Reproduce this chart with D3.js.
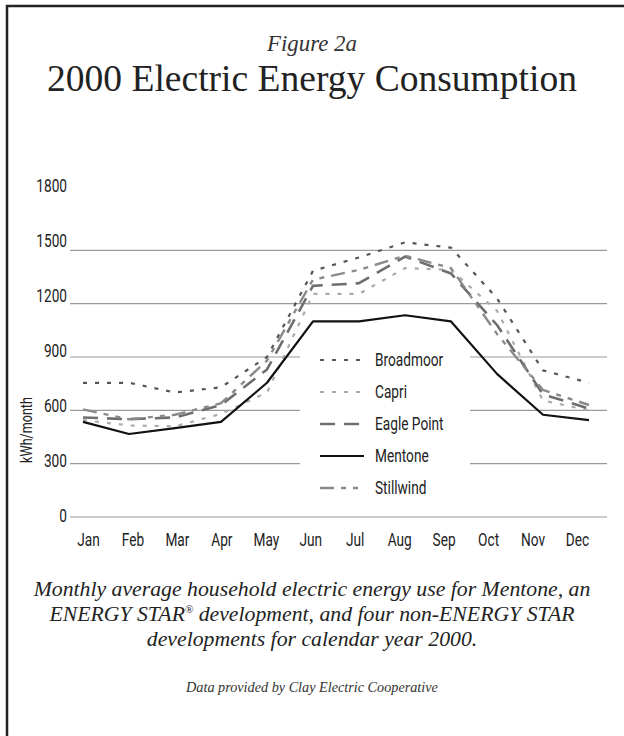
<!DOCTYPE html>
<html>
<head>
<meta charset="utf-8">
<script src="https://cdn.jsdelivr.net/npm/d3@7"></script>
<style>
  html, body { margin: 0; padding: 0; background: #fff; }
  svg { display: block; }
</style>
</head>
<body>
<svg id="chart" width="624" height="736"></svg>
<script>
const months = ["Jan","Feb","Mar","Apr","May","Jun","Jul","Aug","Sep","Oct","Nov","Dec"];
const yTicks = [0, 300, 600, 900, 1200, 1500, 1800];
const gridTicks = [0, 300, 600, 900, 1200, 1500];
const seriesNames = ["Broadmoor", "Capri", "Eagle Point", "Mentone", "Stillwind"];
const broadmoor  = [755, 755, 700, 730, 900, 1385, 1460, 1545, 1515, 1230, 825, 755];
const capri      = [545, 515, 510, 580, 700, 1255, 1255, 1400, 1390, 1160, 655, 600];
const eaglePoint = [560, 550, 560, 630, 830, 1300, 1315, 1465, 1370, 1080, 690, 610];
const mentone    = [535, 467, 500, 535, 755, 1100, 1100, 1135, 1100, 805, 575, 545];
const stillwind  = [605, 550, 575, 640, 880, 1335, 1390, 1470, 1400, 1030, 715, 630];

const seriesData = [broadmoor, capri, eaglePoint, mentone, stillwind];
const styles = [
  {stroke: "#555", width: 2.2, dash: "4,8"},
  {stroke: "#aaa", width: 2.2, dash: "4,8"},
  {stroke: "#6e6e6e", width: 2.6, dash: "15,9"},
  {stroke: "#111", width: 2.2, dash: null},
  {stroke: "#8a8a8a", width: 2.4, dash: "14,7,5,7,5,7"}
];

const svg = d3.select("#chart");
const condensed = "Roboto, 'Liberation Sans', sans-serif";
const squeeze = "scale(0.72,1)";
const serif = "'Liberation Serif', 'DejaVu Serif', serif";

// frame
svg.append("path").attr("d", "M7,740 V6 H630").attr("fill", "none")
  .attr("stroke", "#222").attr("stroke-width", 2.5);

// scales
const x = d3.scalePoint().domain(months).range([83, 589]);
const y = d3.scaleLinear().domain([0, 1800]).range([517, 197]);
const xLab = d3.scalePoint().domain(months).range([88, 577]);
const yLab = d3.scaleLinear().domain([0, 1800]).range([515, 185]);

// gridlines
svg.append("g").selectAll("line").data(gridTicks).join("line")
  .attr("x1", 70).attr("x2", 607)
  .attr("y1", d => y(d)).attr("y2", d => y(d))
  .attr("stroke", "#9a9a9a").attr("stroke-width", 1.2);

// y axis labels
const yAxis = d3.axisLeft(yLab).tickValues(yTicks).tickSize(0).tickPadding(0).tickFormat(d3.format("d"));
const gy = svg.append("g").attr("transform", "translate(67,0)").call(yAxis);
gy.select(".domain").remove();
gy.selectAll("text").attr("x", 0).attr("font-family", condensed).attr("font-size", 19)
  .attr("fill", "#222").attr("dy", "0.35em").attr("transform", squeeze);

// x axis labels
const xAxis = d3.axisBottom(xLab).tickSize(0).tickPadding(0);
const gx = svg.append("g").attr("transform", "translate(0,532)").call(xAxis);
gx.select(".domain").remove();
gx.selectAll("text").attr("y", 0).attr("font-family", condensed).attr("font-size", 19)
  .attr("fill", "#222").attr("dy", "0.71em").attr("transform", squeeze);

// y axis title
svg.append("text").attr("transform", "translate(32,430) rotate(-90) scale(0.74,1)")
  .attr("text-anchor", "middle").attr("font-family", condensed).attr("font-size", 17)
  .attr("fill", "#222").text("kWh/month");

// legend background
svg.append("rect").attr("x", 300).attr("y", 343).attr("width", 170).attr("height", 160).attr("fill", "#fff");

// lines
const line = d3.line().x((d, i) => x(months[i])).y(d => y(d));
svg.append("g").selectAll("path").data(seriesData).join("path")
  .attr("d", d => line(d)).attr("fill", "none")
  .attr("stroke", (d, i) => styles[i].stroke)
  .attr("stroke-width", (d, i) => styles[i].width)
  .attr("stroke-dasharray", (d, i) => styles[i].dash)
  .attr("stroke-linejoin", "round");

// legend
const lg = svg.append("g");
seriesNames.forEach((name, i) => {
  const ly = 359 + i * 32;
  lg.append("line").attr("x1", 320).attr("x2", 364).attr("y1", ly + 1).attr("y2", ly + 1)
    .attr("stroke", styles[i].stroke).attr("stroke-width", styles[i].width)
    .attr("stroke-dasharray", styles[i].dash);
  lg.append("text").attr("transform", `translate(375,${ly}) ${squeeze}`).attr("dy", "0.35em")
    .attr("font-family", condensed).attr("font-size", 19).attr("fill", "#222").text(name);
});

// fit helper
function fit(sel, target) {
  const w = sel.node().getComputedTextLength();
  const fs = parseFloat(sel.attr("font-size"));
  sel.attr("font-size", (fs * target / w).toFixed(2));
}

// titles
const fig = svg.append("text").attr("x", 312).attr("y", 51).attr("text-anchor", "middle")
  .attr("font-family", serif).attr("font-style", "italic").attr("font-size", 22)
  .attr("fill", "#333").text("Figure 2a");
fit(fig, 90);
const title = svg.append("text").attr("x", 312).attr("y", 91).attr("text-anchor", "middle")
  .attr("font-family", serif).attr("font-size", 35).attr("fill", "#222")
  .text("2000 Electric Energy Consumption");
fit(title, 530);

// caption
const cap1 = svg.append("text").attr("x", 312).attr("y", 596).attr("text-anchor", "middle")
  .attr("font-family", serif).attr("font-style", "italic").attr("font-size", 22).attr("fill", "#222")
  .text("Monthly average household electric energy use for Mentone, an");
fit(cap1, 557);
const fsCap = cap1.attr("font-size");
const cap2 = svg.append("text").attr("x", 312).attr("y", 621).attr("text-anchor", "middle")
  .attr("font-family", serif).attr("font-style", "italic").attr("font-size", fsCap).attr("fill", "#222");
cap2.append("tspan").text("ENERGY STAR");
cap2.append("tspan").attr("font-size", fsCap * 0.5).attr("dy", -8).text("®");
cap2.append("tspan").attr("dy", 8).text(" development, and four non-ENERGY STAR");
svg.append("text").attr("x", 312).attr("y", 646).attr("text-anchor", "middle")
  .attr("font-family", serif).attr("font-style", "italic").attr("font-size", fsCap).attr("fill", "#222")
  .text("developments for calendar year 2000.");
const src = svg.append("text").attr("x", 312).attr("y", 692).attr("text-anchor", "middle")
  .attr("font-family", serif).attr("font-style", "italic").attr("font-size", 16).attr("fill", "#333")
  .text("Data provided by Clay Electric Cooperative");
fit(src, 252);
</script>
</body>
</html>
